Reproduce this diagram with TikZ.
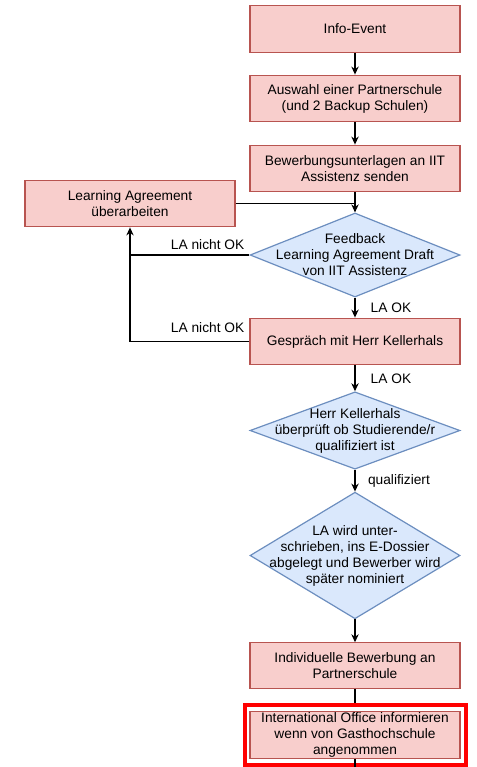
\documentclass[tikz,border=0pt]{standalone}
\usepackage{fontspec}
\setmainfont{Liberation Sans}
\usetikzlibrary{shapes.geometric,arrows.meta}
\definecolor{boxfill}{HTML}{F8CECC}
\definecolor{boxline}{HTML}{B85450}
\definecolor{decfill}{HTML}{DAE8FC}
\definecolor{decline}{HTML}{6C8EBF}

\begin{document}
\begin{tikzpicture}[x=0.75pt,y=-0.75pt,
    font=\fontsize{10.3}{12}\selectfont,
    box/.style={draw=boxline,fill=boxfill,line width=0.9pt,minimum width=157.5pt,minimum height=35pt,align=center,inner sep=0pt},
    decision/.style={diamond,draw=decline,fill=decfill,line width=0.9pt,minimum width=157.5pt,inner sep=0pt},
    flow/.style={line width=0.9pt,-{Stealth[length=6pt,width=5.5pt]}},
    lbl/.style={font=\fontsize{10.3}{12}\selectfont}]
      \useasboundingbox (0,0) rectangle (477,767);
      \node[box] (info)    at (355,29)    {Info-Event};
      \node[box] (auswahl) at (355,98.5)  {Auswahl einer Partnerschule\\(und 2 Backup Schulen)};
      \node[box] (bewerb)  at (355,168.5) {Bewerbungsunterlagen an IIT\\Assistenz senden};
      \node[box] (learn)   at (130,203.5) {Learning Agreement\\\"uberarbeiten};
      \node[decision,minimum height=63pt,label={[align=center]center:Feedback\\Learning Agreement Draft\\von IIT Assistenz}] (feedback) at (355,255) {};
      \node[box] (gespraech) at (355,341.5) {Gespr\"ach mit Herr Kellerhals};
      \node[decision,minimum height=58pt,label={[align=center]center:Herr Kellerhals\\\"uberpr\"uft ob Studierende/r\\qualifiziert ist}] (herr) at (355,430.5) {};
      \node[decision,minimum height=95pt,label={[align=center]center:LA wird unter-\\schrieben, ins E-Dossier\\abgelegt und Bewerber wird\\sp\"ater nominiert}] (signed) at (355,555.5) {};
      \node[box,minimum height=34pt] (indiv) at (355,665.5) {Individuelle Bewerbung an\\Partnerschule};
      \coordinate (bottom) at (355,767);

      % arrows down the main column
      \draw[flow] (info) -- (auswahl);
      \draw[flow] (auswahl) -- (bewerb);
      \draw[flow] (bewerb) -- (feedback);
      \draw[line width=0.9pt] (learn.east) -- (learn.east -| bewerb.south);
      \draw[flow] (feedback.west) -| node[pos=0.175,above] {LA nicht OK} (learn.south);
      \draw[line width=0.9pt] (gespraech.west) -| node[pos=0.175,above,yshift=3pt] {LA nicht OK} (feedback.west -| learn.south);
      \draw[flow] (feedback) -- node[right,xshift=8pt] {LA OK} (gespraech);
      \draw[flow] (gespraech) -- node[right,xshift=8pt] {LA OK} (herr);
      \draw[flow] (herr) -- node[right,xshift=6pt] {qualifiziert} (signed);
      \draw[flow] (signed) -- (indiv);
      \draw[flow] (indiv.south) -- (355,712);

      % highlighted last step
      \draw[red,fill=white,line width=3pt] (245,705) rectangle (466,765);
      \node[box] (intl) at (355,735) {International Office informieren\\wenn von Gasthochschule\\angenommen};
      \draw[line width=0.9pt] (intl.south) -- (bottom);
\end{tikzpicture}
\end{document}
